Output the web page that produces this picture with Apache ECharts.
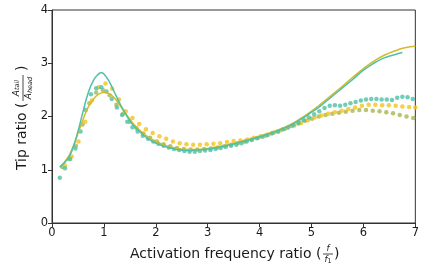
<!DOCTYPE html>
<html>
<head>
<meta charset="utf-8">
<script src="https://cdn.jsdelivr.net/npm/echarts@6/dist/echarts.min.js"></script>
<style>
html, body { margin: 0; padding: 0; background: #fff; }
#chart { width: 422px; height: 270px; }
</style>
</head>
<body>
<div id="chart"></div>
<script>
// ---------------------------------------------------------------------------
// data
// ---------------------------------------------------------------------------
var xTicks = [0, 1, 2, 3, 4, 5, 6, 7];
var yTicks = [0, 1, 2, 3, 4];

// teal model line (high peak)
var tealLineX = [0.15, 0.3, 0.4, 0.5, 0.6, 0.7, 0.8, 0.9, 0.95, 1.0, 1.1, 1.2, 1.3, 1.4, 1.5, 1.6, 1.8, 2.0, 2.2, 2.4, 2.6, 2.8, 3.0, 3.2, 3.4, 3.6, 3.8, 4.0, 4.2, 4.4, 4.6, 4.8, 5.0, 5.2, 5.4, 5.6, 5.8, 6.0, 6.2, 6.4, 6.6, 6.75];
var tealLineY = [1.05, 1.2, 1.4, 1.72, 2.1, 2.45, 2.68, 2.8, 2.82, 2.8, 2.66, 2.46, 2.26, 2.08, 1.92, 1.8, 1.62, 1.5, 1.43, 1.38, 1.36, 1.37, 1.39, 1.42, 1.46, 1.51, 1.56, 1.62, 1.68, 1.75, 1.84, 1.95, 2.08, 2.22, 2.38, 2.54, 2.7, 2.87, 3.0, 3.1, 3.16, 3.2];

// gold model line (lower peak)
var goldLineX = [0.15, 0.3, 0.4, 0.5, 0.6, 0.7, 0.8, 0.9, 1.0, 1.1, 1.2, 1.3, 1.4, 1.5, 1.6, 1.8, 2.0, 2.2, 2.4, 2.6, 2.8, 3.0, 3.2, 3.4, 3.6, 3.8, 4.0, 4.2, 4.4, 4.6, 4.8, 5.0, 5.2, 5.4, 5.6, 5.8, 6.0, 6.2, 6.4, 6.6, 6.8, 7.0];
var goldLineY = [1.05, 1.22, 1.42, 1.68, 1.95, 2.18, 2.33, 2.42, 2.45, 2.43, 2.35, 2.22, 2.08, 1.95, 1.83, 1.65, 1.53, 1.45, 1.4, 1.38, 1.38, 1.4, 1.43, 1.47, 1.52, 1.57, 1.63, 1.69, 1.76, 1.85, 1.97, 2.1, 2.25, 2.41, 2.57, 2.74, 2.9, 3.04, 3.15, 3.23, 3.29, 3.32];

// teal measured points
var tealDotX = [0.15, 0.25, 0.35, 0.45, 0.55, 0.65, 0.75, 0.85, 0.95, 1.05, 1.15, 1.25, 1.35, 1.45, 1.55, 1.65, 1.75, 1.85, 1.95, 2.05, 2.15, 2.25, 2.35, 2.45, 2.55, 2.65, 2.75, 2.85, 2.95, 3.05, 3.15, 3.25, 3.35, 3.45, 3.55, 3.65, 3.75, 3.85, 3.95, 4.05, 4.15, 4.25, 4.35, 4.45, 4.55, 4.65, 4.75, 4.85, 4.95, 5.05, 5.15, 5.25, 5.35, 5.45, 5.55, 5.65, 5.75, 5.85, 5.95, 6.05, 6.15, 6.25, 6.35, 6.45, 6.55, 6.65, 6.75, 6.85, 6.95];
var tealDotY = [0.85, 1.03, 1.2, 1.4, 1.72, 2.12, 2.42, 2.53, 2.55, 2.47, 2.33, 2.17, 2.03, 1.9, 1.8, 1.72, 1.64, 1.58, 1.53, 1.49, 1.45, 1.42, 1.39, 1.37, 1.35, 1.34, 1.34, 1.35, 1.36, 1.37, 1.39, 1.41, 1.43, 1.45, 1.47, 1.5, 1.53, 1.56, 1.59, 1.62, 1.65, 1.69, 1.72, 1.76, 1.8, 1.84, 1.88, 1.93, 1.98, 2.04, 2.1, 2.16, 2.2, 2.21, 2.2, 2.22, 2.25, 2.27, 2.3, 2.32, 2.33, 2.33, 2.32, 2.32, 2.31, 2.35, 2.37, 2.36, 2.33];

// gold measured points
var goldDotX = [0.25, 0.38, 0.51, 0.64, 0.77, 0.9, 1.03, 1.16, 1.29, 1.42, 1.55, 1.68, 1.81, 1.94, 2.07, 2.2, 2.33, 2.46, 2.59, 2.72, 2.85, 2.98, 3.11, 3.24, 3.37, 3.5, 3.63, 3.76, 3.89, 4.02, 4.15, 4.28, 4.41, 4.54, 4.67, 4.8, 4.93, 5.06, 5.19, 5.32, 5.45, 5.58, 5.71, 5.84, 5.97, 6.1, 6.23, 6.36, 6.49, 6.62, 6.75, 6.88, 7.0];
var goldDotY = [1.08, 1.25, 1.53, 1.9, 2.3, 2.55, 2.62, 2.52, 2.32, 2.1, 1.97, 1.86, 1.76, 1.69, 1.63, 1.58, 1.53, 1.5, 1.48, 1.47, 1.47, 1.48, 1.49, 1.5, 1.52, 1.54, 1.55, 1.57, 1.6, 1.63, 1.66, 1.7, 1.74, 1.79, 1.83, 1.88, 1.93, 1.98, 2.02, 2.05, 2.08, 2.11, 2.14, 2.17, 2.2, 2.22, 2.22, 2.21, 2.21, 2.2, 2.19, 2.18, 2.17];

// olive measured points
var oliveDotX = [0.2, 0.33, 0.46, 0.59, 0.72, 0.85, 0.98, 1.11, 1.24, 1.37, 1.5, 1.63, 1.76, 1.89, 2.02, 2.15, 2.28, 2.41, 2.54, 2.67, 2.8, 2.93, 3.06, 3.19, 3.32, 3.45, 3.58, 3.71, 3.84, 3.97, 4.1, 4.23, 4.36, 4.49, 4.62, 4.75, 4.88, 5.01, 5.14, 5.27, 5.4, 5.53, 5.66, 5.79, 5.92, 6.05, 6.18, 6.31, 6.44, 6.57, 6.7, 6.83, 6.96];
var oliveDotY = [1.05, 1.2, 1.45, 1.85, 2.25, 2.45, 2.5, 2.4, 2.22, 2.05, 1.9, 1.78, 1.68, 1.6, 1.53, 1.48, 1.44, 1.41, 1.39, 1.38, 1.38, 1.39, 1.4, 1.42, 1.44, 1.47, 1.5, 1.53, 1.57, 1.6, 1.64, 1.68, 1.72, 1.77, 1.82, 1.87, 1.92, 1.96, 2.0, 2.03, 2.05, 2.07, 2.09, 2.11, 2.12, 2.12, 2.11, 2.1, 2.08, 2.06, 2.03, 2.0, 1.97];

// ---------------------------------------------------------------------------
function zip(xs, ys) {
	var out = [];
	for (var i = 0; i < xs.length; i++) {
		out.push([xs[i], ys[i]]);
	}
	return out;
}

var TEAL = '#4fc0a6';
var GOLD = '#f4c21c';
var OLIVE = '#a8b64e';
var GOLDLINE = '#d2bb2e';
var FONT = 'DejaVu Sans';

var myChart = echarts.init(document.getElementById('chart'));

function axisCommon(ticks) {
	return {
		type: 'value',
		min: ticks[0],
		max: ticks[ticks.length - 1],
		interval: 1,
		axisLine: { show: true, lineStyle: { color: '#333', width: 1 } },
		axisTick: { show: true, length: 4, lineStyle: { color: '#333' } },
		axisLabel: { fontSize: 11.5, color: '#1a1a1a', fontFamily: FONT, margin: 4 },
		splitLine: { show: false }
	};
}

var yTitle = {
	type: 'group',
	x: 22,
	y: 120,
	rotation: Math.PI / 2,
	children: [
		{ type: 'text', x: -50, y: 0, style: { text: 'Tip ratio (', fontSize: 14, fontFamily: FONT, fill: '#1a1a1a', textAlign: 'left', textVerticalAlign: 'middle' } },
		{ type: 'text', x: 32, y: -1, style: { text: '{a|A}{s|tail}', fontFamily: FONT, fill: '#1a1a1a', textAlign: 'center', textVerticalAlign: 'bottom',
			rich: { a: { fontSize: 9, fontStyle: 'italic', fontFamily: FONT }, s: { fontSize: 6.5, fontStyle: 'italic', fontFamily: FONT, verticalAlign: 'bottom' } } } },
		{ type: 'line', shape: { x1: 19, y1: 1, x2: 45, y2: 1 }, style: { stroke: '#1a1a1a', lineWidth: 0.8 } },
		{ type: 'text', x: 32, y: 2.5, style: { text: '{a|A}{s|head}', fontFamily: FONT, fill: '#1a1a1a', textAlign: 'center', textVerticalAlign: 'top',
			rich: { a: { fontSize: 9, fontStyle: 'italic', fontFamily: FONT }, s: { fontSize: 6.5, fontStyle: 'italic', fontFamily: FONT, verticalAlign: 'bottom' } } } },
		{ type: 'text', x: 49, y: 0, style: { text: ')', fontSize: 14, fontFamily: FONT, fill: '#1a1a1a', textAlign: 'left', textVerticalAlign: 'middle' } }
	]
};

var xTitle = {
	type: 'group',
	x: 0,
	y: 254,
	children: [
		{ type: 'text', x: 130, y: 0, style: { text: 'Activation frequency ratio (', fontSize: 14, fontFamily: FONT, fill: '#1a1a1a', textAlign: 'left', textVerticalAlign: 'middle' } },
		{ type: 'text', x: 328, y: -1, style: { text: 'f', fontSize: 8.5, fontStyle: 'italic', fontFamily: FONT, fill: '#1a1a1a', textAlign: 'center', textVerticalAlign: 'bottom' } },
		{ type: 'line', shape: { x1: 323, y1: 0, x2: 333, y2: 0 }, style: { stroke: '#1a1a1a', lineWidth: 0.8 } },
		{ type: 'text', x: 328, y: 1.5, style: { text: '{a|f}{s|1}', fontFamily: FONT, fill: '#1a1a1a', textAlign: 'center', textVerticalAlign: 'top',
			rich: { a: { fontSize: 8.5, fontStyle: 'italic', fontFamily: FONT }, s: { fontSize: 6.5, fontFamily: FONT, verticalAlign: 'bottom' } } } },
		{ type: 'text', x: 334, y: 0, style: { text: ')', fontSize: 14, fontFamily: FONT, fill: '#1a1a1a', textAlign: 'left', textVerticalAlign: 'middle' } }
	]
};

var option = {
	animation: false,
	backgroundColor: '#fff',
	grid: { left: 52, right: 6, top: 10, bottom: 47, show: true, borderColor: '#333', borderWidth: 1, backgroundColor: 'transparent' },
	xAxis: axisCommon(xTicks),
	yAxis: axisCommon(yTicks),
	graphic: [yTitle, xTitle],
	series: [
		{ name: 'olive pts', type: 'scatter', symbolSize: 4.5, itemStyle: { color: OLIVE }, data: zip(oliveDotX, oliveDotY), z: 2 },
		{ name: 'gold pts', type: 'scatter', symbolSize: 4.5, itemStyle: { color: GOLD }, data: zip(goldDotX, goldDotY), z: 3 },
		{ name: 'teal pts', type: 'scatter', symbolSize: 4.5, itemStyle: { color: TEAL }, data: zip(tealDotX, tealDotY), z: 4 },
		{ name: 'gold line', type: 'line', smooth: true, showSymbol: false, lineStyle: { color: GOLDLINE, width: 1.5 }, data: zip(goldLineX, goldLineY), z: 5 },
		{ name: 'teal line', type: 'line', smooth: true, showSymbol: false, lineStyle: { color: TEAL, width: 1.5 }, data: zip(tealLineX, tealLineY), z: 6 }
	]
};
myChart.setOption(option);
</script>
</body>
</html>
